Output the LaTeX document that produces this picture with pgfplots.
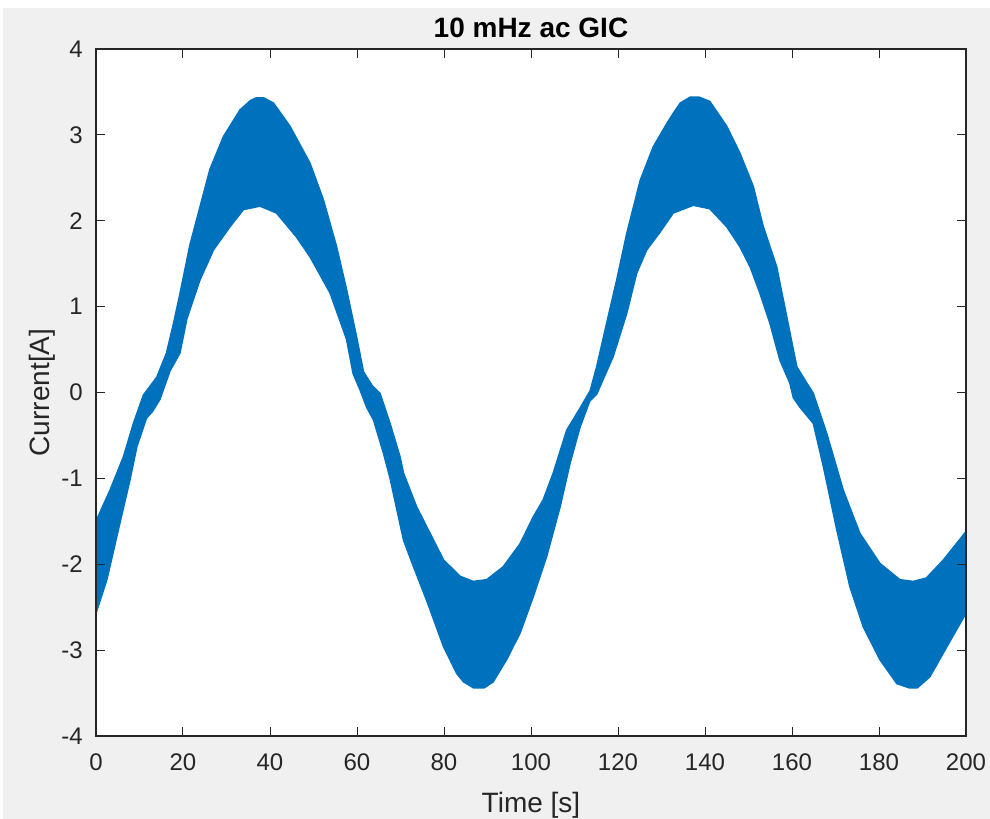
\documentclass[border=0pt]{standalone}
\usepackage{pgfplots}
\pgfplotsset{compat=1.18}
\usepackage{pgfplotstable}
\usepackage{fontspec}
\setmainfont{Liberation Sans}
\definecolor{mblue}{RGB}{0,114,189}
\definecolor{mbg}{RGB}{240,240,240}
\definecolor{mgray}{RGB}{38,38,38}

% outline of the band: upper envelope (t = 0 -> 200), then lower envelope (t = 200 -> 0)
\pgfplotstableread{
t y
0 -1.50
1.5 -1.33
3.2 -1.14
6.3 -0.75
8.6 -0.36
10.9 -0.03
14.0 0.18
16.2 0.46
17.8 0.80
19.3 1.15
21.6 1.72
23.9 2.16
26.2 2.60
29.3 2.98
33.1 3.29
35.5 3.40
36.8 3.43
38.6 3.43
40.8 3.37
44.6 3.10
49.2 2.67
52.3 2.24
55.3 1.70
57.6 1.20
59.9 0.65
61.5 0.24
63.5 0.08
65.3 -0.01
67.6 -0.36
69.9 -0.75
70.7 -0.94
73.7 -1.33
76.8 -1.64
79.9 -1.95
83.7 -2.14
86.7 -2.20
89.8 -2.18
93.6 -2.03
97.5 -1.76
100.5 -1.45
102.8 -1.25
105.1 -0.94
108.2 -0.44
111.3 -0.18
113.6 0.02
115.1 0.30
117.4 0.81
119.7 1.31
122.0 1.85
125.1 2.47
128.1 2.86
131.2 3.13
132.7 3.25
134.3 3.37
136.6 3.44
138.6 3.44
141.1 3.39
145.0 3.10
148.0 2.79
151.1 2.40
153.4 1.93
156.5 1.46
158.8 0.88
161.1 0.30
163.4 0.11
164.9 -0.01
168.0 -0.48
171.8 -1.14
175.6 -1.64
180.2 -1.99
184.8 -2.18
187.9 -2.20
190.9 -2.16
194.8 -1.95
200 -1.62
200 -2.57
195.6 -2.96
191.7 -3.31
188.8 -3.44
187.0 -3.44
184.1 -3.39
180.2 -3.11
176.4 -2.73
173.3 -2.26
170.3 -1.60
167.2 -0.86
164.9 -0.36
161.8 -0.17
160.3 -0.06
159.5 0.11
157.2 0.38
154.9 0.81
152.6 1.16
150.4 1.46
148.0 1.70
145.0 1.93
141.1 2.14
137.3 2.18
132.7 2.09
129.7 1.87
126.6 1.66
124.3 1.39
122.0 0.92
118.9 0.42
115.1 -0.02
113.5 -0.10
111.3 -0.40
109.0 -0.82
106.7 -1.33
103.6 -1.91
100.5 -2.38
97.5 -2.80
94.4 -3.11
91.3 -3.37
89.2 -3.44
86.8 -3.44
84.5 -3.37
82.9 -3.27
79.9 -2.96
76.0 -2.42
73.0 -2.03
70.7 -1.72
67.6 -1.00
66.1 -0.71
63.8 -0.32
62.2 -0.17
60.7 0.03
59.1 0.22
57.6 0.62
53.8 1.16
49.2 1.58
46.1 1.81
41.5 2.09
37.7 2.17
33.9 2.13
30.8 1.93
27.0 1.66
23.9 1.31
20.9 0.86
19.3 0.46
17.0 0.25
14.7 -0.08
13.0 -0.22
11.6 -0.30
9.4 -0.63
7.8 -1.02
5.5 -1.52
2.5 -2.18
0 -2.57
}\bandtab

\begin{document}
\begin{tikzpicture}
\fill[white] (-96bp,-83bp) rectangle (894bp,736bp);
\fill[mbg] (-93bp,-83bp) rectangle (894bp,728bp);
\begin{axis}[
  at={(0,0)}, anchor=south west,
  scale only axis, width=870bp, height=687bp,
  xmin=0, xmax=200, ymin=-4, ymax=4,
  xtick={0,20,...,200}, ytick={-4,-3,...,4},
  tick align=inside, major tick length=9bp,
  axis line style={mgray, line width=1.1bp},
  every tick/.style={mgray, line width=1bp},
  axis background/.style={fill=white},
  /pgf/number format/assume math mode=true,
  ticklabel style={font=\fontsize{24bp}{28bp}\selectfont, text=mgray, inner sep=0pt},
  xticklabel style={anchor=base, yshift=-34bp},
  yticklabel style={anchor=east, xshift=-13bp},
  title={10 mHz ac GIC},
  title style={font=\fontsize{28bp}{32bp}\selectfont\bfseries, at={(axis description cs:0.5,1)}, anchor=base, yshift=6bp, inner sep=0pt},
  xlabel={Time [s]},
  ylabel={Current[A]},
  label style={font=\fontsize{28bp}{32bp}\selectfont, text=mgray, inner sep=0pt},
  xlabel style={at={(axis description cs:0.5,0)}, anchor=base, yshift=-76bp},
  ylabel style={at={(axis description cs:0,0.5)}, anchor=base, yshift=46bp},
  axis on top,
]
\addplot[fill=mblue, draw=mblue, line width=1.5bp, line join=round] table[x=t,y=y] {\bandtab} -- cycle;
\end{axis}
\end{tikzpicture}
\end{document}
